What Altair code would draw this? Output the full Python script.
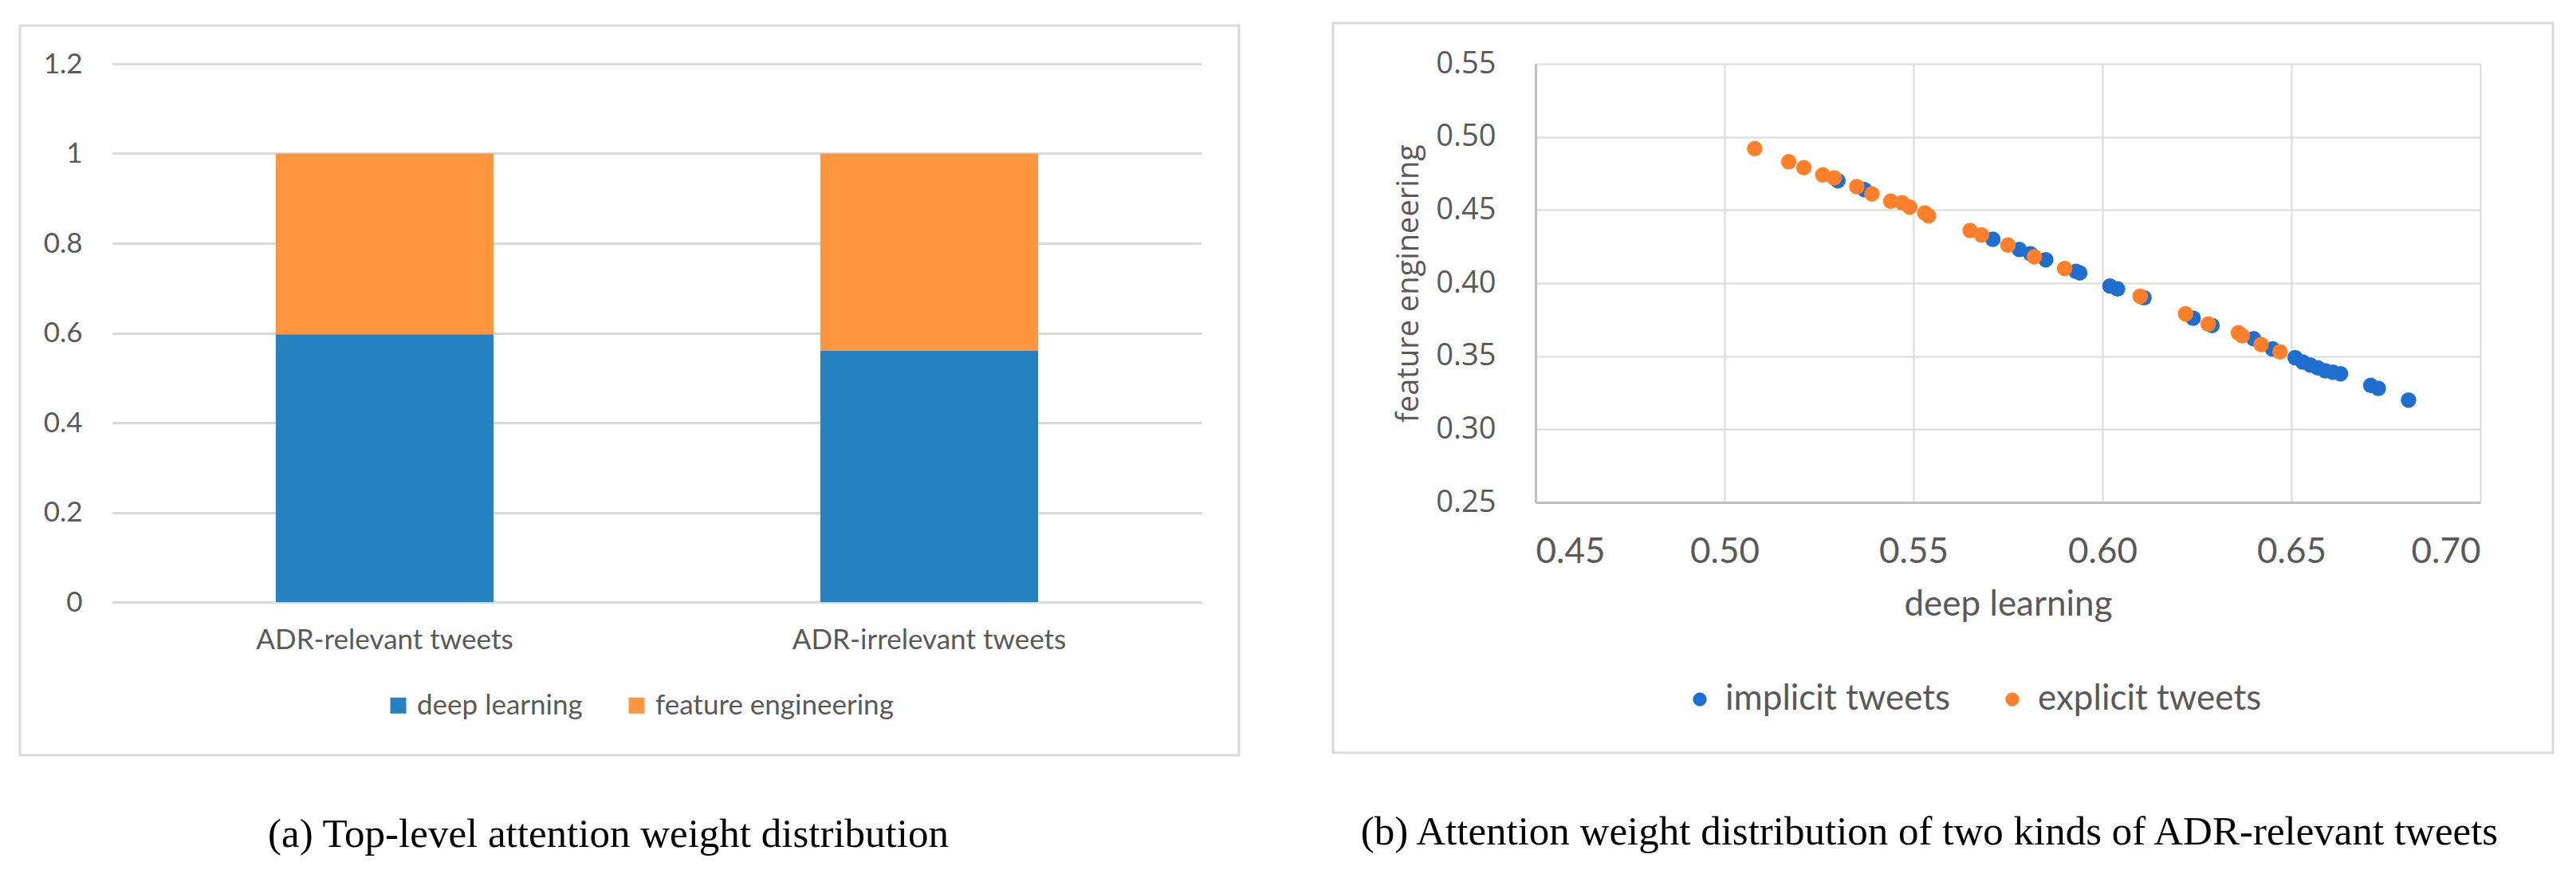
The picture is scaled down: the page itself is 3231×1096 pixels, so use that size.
import altair as alt
import pandas as pd

# ---------------- Panel (a): stacked bars ----------------
categories = ["ADR-relevant tweets", "ADR-irrelevant tweets"]
bar_series = ["deep learning", "feature engineering"]
deep_learning = [0.597, 0.560]
feature_engineering = [0.403, 0.440]
y_ticks_a = [0, 0.2, 0.4, 0.6, 0.8, 1.0, 1.2]

# ---------------- Panel (b): scatter ----------------
scatter_series = ["implicit tweets", "explicit tweets"]
implicit_dl = [0.530, 0.537, 0.571, 0.578, 0.581, 0.585, 0.593, 0.594, 0.602, 0.604,
               0.611, 0.624, 0.629, 0.640, 0.645, 0.651, 0.653, 0.655, 0.657, 0.659,
               0.661, 0.663, 0.671, 0.673, 0.681]
implicit_fe = [0.470, 0.464, 0.430, 0.423, 0.420, 0.416, 0.408, 0.407, 0.398, 0.396,
               0.390, 0.376, 0.371, 0.362, 0.355, 0.349, 0.346, 0.344, 0.342, 0.340,
               0.339, 0.338, 0.330, 0.328, 0.320]
explicit_dl = [0.508, 0.517, 0.521, 0.526, 0.529, 0.535, 0.539, 0.544, 0.547, 0.549,
               0.553, 0.554, 0.565, 0.568, 0.575, 0.582, 0.590, 0.610, 0.622, 0.628,
               0.636, 0.637, 0.642, 0.647]
explicit_fe = [0.492, 0.483, 0.479, 0.474, 0.472, 0.466, 0.461, 0.456, 0.455, 0.452,
               0.448, 0.446, 0.436, 0.433, 0.426, 0.418, 0.410, 0.391, 0.379, 0.372,
               0.366, 0.364, 0.358, 0.353]
x_ticks_b = [0.45, 0.50, 0.55, 0.60, 0.65, 0.70]
y_ticks_b = [0.25, 0.30, 0.35, 0.40, 0.45, 0.50, 0.55]

captions = ["(a) Top-level attention weight distribution",
            "(b) Attention weight distribution of two kinds of ADR-relevant tweets"]

GREY_TXT = "#595959"
GRID = "#D9D9D9"
BOX = "#D9D9D9"

# ---------- tables ----------
rows_a = []
for i, c in enumerate(categories):
    rows_a.append({"category": c, "series": bar_series[0], "value": deep_learning[i], "ord": 0})
    rows_a.append({"category": c, "series": bar_series[1], "value": feature_engineering[i], "ord": 1})
df_a = pd.DataFrame(rows_a)

df_b = pd.concat([
    pd.DataFrame({"dl": implicit_dl, "fe": implicit_fe, "kind": scatter_series[0]}),
    pd.DataFrame({"dl": explicit_dl, "fe": explicit_fe, "kind": scatter_series[1]}),
], ignore_index=True)

one = pd.DataFrame({"k": [0]})

# ---------- panel (a) ----------
W_A, H_A = 1366, 675

box_a = alt.Chart(one).mark_rect(fillOpacity=0, stroke=BOX, strokeWidth=3).encode(
    x=alt.value(-116), x2=alt.value(W_A + 47), y=alt.value(-48), y2=alt.value(H_A + 192))

bars = alt.Chart(df_a).mark_bar().encode(
    x=alt.X("category:N", sort=categories,
            scale=alt.Scale(paddingInner=0.6, paddingOuter=0.3),
            axis=alt.Axis(title=None, labelAngle=0, domain=False, ticks=False, grid=False,
                          labelFont="Lato", labelFontSize=35, labelColor=GREY_TXT,
                          labelPadding=30, labelLimit=800)),
    y=alt.Y("value:Q", stack="zero", scale=alt.Scale(domain=[0, 1.2]),
            axis=alt.Axis(title=None, values=y_ticks_a, format="~g", domain=False, ticks=False,
                          grid=True, gridColor=GRID, gridWidth=3,
                          labelFont="Lato", labelFontSize=35, labelColor=GREY_TXT,
                          labelPadding=38)),
    color=alt.Color("series:N", scale=alt.Scale(domain=bar_series, range=["#2681C0", "#FF963F"]),
                    legend=alt.Legend(orient="none", legendX=341, legendY=787, direction="horizontal",
                                      title=None, symbolType="square", symbolSize=400,
                                      symbolStrokeWidth=0, labelFont="Lato", labelFontSize=35,
                                      labelColor=GREY_TXT, columnPadding=50, labelOffset=6,
                                      labelLimit=800)),
    order=alt.Order("ord:Q"),
)

cap_a = alt.Chart(pd.DataFrame({"caption": [captions[0]]})).mark_text(
    font="Liberation Serif", fontSize=51, color="black", align="center", baseline="middle"
).encode(x=alt.value(622), y=alt.value(967), text="caption:N")

chart_a = alt.layer(box_a, bars, cap_a).properties(width=W_A, height=H_A)

# ---------- panel (b) ----------
W_B, H_B = 1185, 550

box_b = alt.Chart(one).mark_rect(fillOpacity=0, stroke=BOX, strokeWidth=3).encode(
    x=alt.value(-254), x2=alt.value(W_B + 91), y=alt.value(-51), y2=alt.value(H_B + 314))

points = alt.Chart(df_b).mark_circle(size=380, opacity=1).encode(
    x=alt.X("dl:Q", scale=alt.Scale(domain=[0.45, 0.70], nice=False, zero=False),
            axis=alt.Axis(title="deep learning", values=x_ticks_b, format=".2f", ticks=False,
                          domainColor="#BFBFBF", domainWidth=3, gridColor=GRID, gridWidth=2,
                          labelFont="Lato", labelFontSize=44, labelColor=GREY_TXT, labelPadding=40,
                          titleFont="Lato", titleFontSize=44, titleColor=GREY_TXT,
                          titleFontWeight="normal", titlePadding=22)),
    y=alt.Y("fe:Q", scale=alt.Scale(domain=[0.25, 0.55], nice=False, zero=False),
            axis=alt.Axis(title="feature engineering", values=y_ticks_b, format=".2f", ticks=False,
                          domainColor="#BFBFBF", domainWidth=3, gridColor=GRID, gridWidth=2,
                          labelFont="Open Sans", labelFontSize=38, labelColor=GREY_TXT,
                          labelPadding=50, titleFont="Open Sans", titleFontSize=38,
                          titleColor=GREY_TXT, titleFontWeight="normal", titlePadding=14)),
    color=alt.Color("kind:N", scale=alt.Scale(domain=scatter_series, range=["#1F6FCF", "#FF7F2A"]),
                    legend=alt.Legend(orient="none", legendX=184, legendY=775, direction="horizontal",
                                      title=None, symbolType="circle", symbolSize=300,
                                      symbolStrokeWidth=0, labelFont="Lato", labelFontSize=44,
                                      labelColor=GREY_TXT, columnPadding=55, labelOffset=10,
                                      labelLimit=800)),
)

cap_b = alt.Chart(pd.DataFrame({"caption": [captions[1]]})).mark_text(
    font="Liberation Serif", fontSize=51, color="black", align="center", baseline="middle"
).encode(x=alt.value(494), y=alt.value(964), text="caption:N")

chart_b = alt.layer(box_b, points, cap_b).properties(width=W_B, height=H_B)

chart = alt.hconcat(chart_a, chart_b, spacing=114).resolve_scale(color="independent").properties(
    padding={"left": 15, "top": 19, "right": 0, "bottom": 0}
).configure_view(stroke="transparent")

chart.save("out.html", embed_options={"renderer": "svg", "actions": False})
